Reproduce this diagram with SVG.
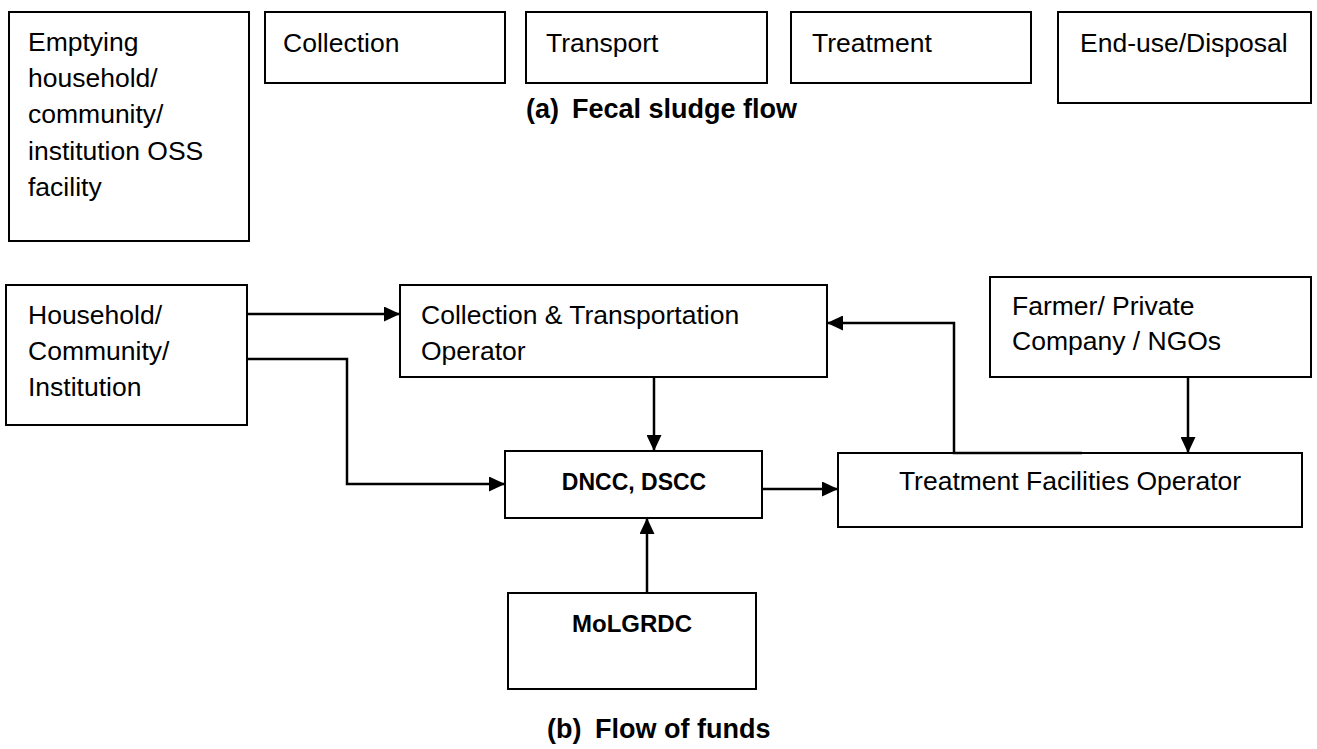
<svg xmlns="http://www.w3.org/2000/svg" width="1317" height="749" viewBox="0 0 1317 749">
<style>
.box{fill:#fff;stroke:#000;stroke-width:2}
.t{font-family:"Liberation Sans",Arial,sans-serif;font-size:26.5px;fill:#000}
.b{font-family:"Liberation Sans",Arial,sans-serif;font-weight:bold;fill:#000}
.c{text-anchor:middle}
.ln{fill:none;stroke:#000;stroke-width:2.5;marker-end:url(#ah)}
</style>
<defs>
<marker id="ah" markerUnits="userSpaceOnUse" markerWidth="16" markerHeight="15" refX="16" refY="7.5" orient="auto">
<path d="M0,0 L16,7.5 L0,15 z" fill="#000"/>
</marker>
</defs>
<rect width="1317" height="749" fill="#fff"/>
<g id="emptying">
<rect class="box" x="9" y="12" width="240" height="229"/>
<text class="t" x="28" y="51">Emptying</text>
<text class="t" x="28" y="87">household/</text>
<text class="t" x="28" y="123">community/</text>
<text class="t" x="28" y="159.5">institution OSS</text>
<text class="t" x="28" y="196">facility</text>
</g>
<g id="collection">
<rect class="box" x="265" y="12" width="240" height="71"/>
<text class="t" x="283" y="52">Collection</text>
</g>
<g id="transport">
<rect class="box" x="526" y="12" width="241" height="71"/>
<text class="t" x="546" y="52">Transport</text>
</g>
<g id="treatment">
<rect class="box" x="791" y="12" width="240" height="71"/>
<text class="t" x="812" y="52">Treatment</text>
</g>
<g id="enduse">
<rect class="box" x="1058" y="12" width="253" height="91"/>
<text class="t" x="1080" y="52">End-use/Disposal</text>
</g>
<g id="caption-a">
<text class="b" x="526" y="118" font-size="27">(a)</text>
<text class="b" x="572" y="118" font-size="27">Fecal sludge flow</text>
</g>
<g id="household">
<rect class="box" x="6" y="285" width="241" height="140"/>
<text class="t" x="28" y="324">Household/</text>
<text class="t" x="28" y="360">Community/</text>
<text class="t" x="28" y="396">Institution</text>
</g>
<g id="ctoperator">
<rect class="box" x="400" y="285" width="427" height="92"/>
<text class="t" x="421" y="324">Collection &amp; Transportation</text>
<text class="t" x="421" y="360">Operator</text>
</g>
<g id="farmer">
<rect class="box" x="990" y="277" width="321" height="100"/>
<text class="t" x="1012" y="315">Farmer/ Private</text>
<text class="t" x="1012" y="350">Company / NGOs</text>
</g>
<g id="dncc">
<rect class="box" x="505" y="451" width="257" height="67"/>
<text class="b c" x="634" y="490" font-size="23">DNCC, DSCC</text>
</g>
<g id="tfo">
<rect class="box" x="838" y="453" width="464" height="74"/>
<text class="t c" x="1070" y="490">Treatment Facilities Operator</text>
</g>
<g id="molgrdc">
<rect class="box" x="508" y="593" width="248" height="96"/>
<text class="b c" x="632" y="632" font-size="24">MoLGRDC</text>
</g>
<g id="caption-b">
<text class="b" x="547" y="738" font-size="27">(b)</text>
<text class="b" x="595" y="738" font-size="27">Flow of funds</text>
</g>
<g id="connectors">
<path class="ln" d="M247,314 H400"/>
<path class="ln" d="M247,359 H347 V484 H505"/>
<path class="ln" d="M654,377 V451"/>
<path class="ln" d="M762,489 H838"/>
<path class="ln" d="M1082,453 H954 V323 H827"/>
<path class="ln" d="M1188,377 V453"/>
<path class="ln" d="M647,593 V518"/>
</g>
</svg>
